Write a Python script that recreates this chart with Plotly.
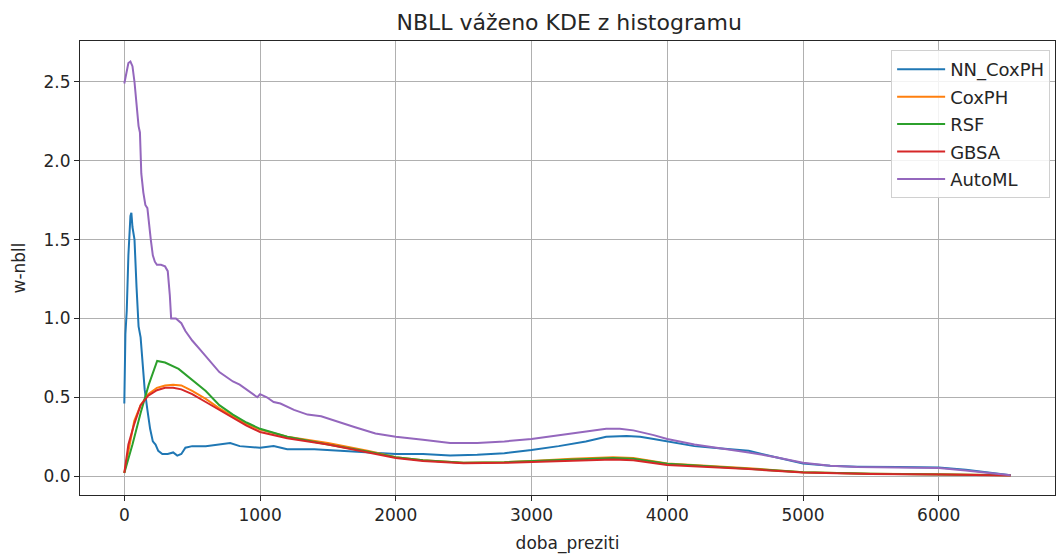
import plotly.graph_objects as go

# NN_CoxPH
nn_x = [0, 8, 18, 30, 45, 52, 60, 75, 90, 105, 120, 135, 150, 170, 190, 210, 230, 250, 280, 320, 360, 390, 420, 450, 500, 600, 700, 780, 850, 1000, 1100, 1200, 1400, 1600, 1800, 2000, 2200, 2400, 2600, 2800, 3000, 3200, 3400, 3550, 3700, 3800, 3900, 4000, 4200, 4400, 4600, 4800, 5000, 5200, 5400, 5700, 6000, 6200, 6400, 6530]
nn_y = [0.46, 0.90, 1.05, 1.40, 1.65, 1.67, 1.58, 1.50, 1.20, 0.95, 0.88, 0.70, 0.55, 0.42, 0.30, 0.22, 0.20, 0.16, 0.14, 0.14, 0.15, 0.13, 0.14, 0.18, 0.19, 0.19, 0.20, 0.21, 0.19, 0.18, 0.19, 0.17, 0.17, 0.16, 0.15, 0.14, 0.14, 0.13, 0.135, 0.145, 0.165, 0.19, 0.22, 0.25, 0.255, 0.25, 0.235, 0.22, 0.19, 0.175, 0.16, 0.12, 0.08, 0.065, 0.06, 0.058, 0.055, 0.04, 0.02, 0.005]

# CoxPH
cox_x = [0, 30, 73, 120, 176, 240, 300, 360, 420, 500, 600, 700, 800, 900, 1000, 1200, 1500, 1800, 2000, 2200, 2500, 2800, 3000, 3300, 3600, 3750, 4000, 4300, 4600, 5000, 5500, 6000, 6530]
cox_y = [0.02, 0.15, 0.35, 0.45, 0.52, 0.56, 0.575, 0.58, 0.575, 0.54, 0.49, 0.43, 0.38, 0.33, 0.295, 0.25, 0.21, 0.16, 0.12, 0.10, 0.085, 0.088, 0.095, 0.11, 0.12, 0.115, 0.08, 0.065, 0.05, 0.025, 0.015, 0.012, 0.005]

# RSF
rsf_x = [0, 60, 120, 180, 242, 300, 400, 500, 600, 700, 800, 900, 1000, 1200, 1500, 1800, 2000, 2200, 2500, 2800, 3000, 3300, 3600, 3750, 4000, 4300, 4600, 5000, 5500, 6000, 6530]
rsf_y = [0.02, 0.20, 0.40, 0.58, 0.73, 0.72, 0.68, 0.61, 0.54, 0.45, 0.39, 0.34, 0.30, 0.25, 0.20, 0.155, 0.12, 0.10, 0.085, 0.088, 0.095, 0.105, 0.115, 0.11, 0.078, 0.062, 0.048, 0.025, 0.015, 0.012, 0.005]

# GBSA
gb_x = [0, 30, 73, 120, 176, 240, 300, 360, 420, 500, 600, 700, 800, 900, 1000, 1200, 1500, 1800, 2000, 2200, 2500, 2800, 3000, 3300, 3600, 3750, 4000, 4300, 4600, 5000, 5500, 6000, 6530]
gb_y = [0.02, 0.20, 0.33, 0.45, 0.51, 0.545, 0.56, 0.56, 0.55, 0.52, 0.47, 0.42, 0.37, 0.32, 0.28, 0.24, 0.20, 0.15, 0.115, 0.095, 0.082, 0.084, 0.09, 0.10, 0.105, 0.10, 0.07, 0.058, 0.045, 0.022, 0.013, 0.01, 0.003]

# AutoML
am_x = [0, 15, 30, 45, 60, 75, 90, 105, 115, 125, 140, 155, 170, 180, 195, 210, 225, 240, 270, 300, 320, 335, 345, 380, 420, 450, 500, 560, 620, 660, 700, 750, 800, 850, 900, 950, 980, 1000, 1050, 1100, 1150, 1250, 1350, 1450, 1550, 1700, 1850, 2000, 2200, 2400, 2600, 2800, 3000, 3200, 3400, 3550, 3650, 3750, 3900, 4000, 4200, 4400, 4600, 4800, 5000, 5200, 5400, 5700, 6000, 6200, 6400, 6530]
am_y = [2.49, 2.56, 2.62, 2.63, 2.60, 2.50, 2.35, 2.22, 2.18, 1.92, 1.80, 1.72, 1.70, 1.60, 1.50, 1.40, 1.36, 1.34, 1.34, 1.33, 1.30, 1.15, 1.00, 1.00, 0.97, 0.92, 0.86, 0.80, 0.74, 0.70, 0.66, 0.63, 0.60, 0.58, 0.55, 0.52, 0.50, 0.52, 0.50, 0.47, 0.46, 0.42, 0.39, 0.38, 0.35, 0.31, 0.27, 0.25, 0.23, 0.21, 0.21, 0.22, 0.235, 0.26, 0.285, 0.30, 0.30, 0.29, 0.26, 0.235, 0.20, 0.175, 0.15, 0.12, 0.085, 0.065, 0.058, 0.055, 0.052, 0.035, 0.015, 0.005]

names = ["NN_CoxPH", "CoxPH", "RSF", "GBSA", "AutoML"]
colors = ["#1f77b4", "#ff7f0e", "#2ca02c", "#d62728", "#9467bd"]
series = [(nn_x, nn_y), (cox_x, cox_y), (rsf_x, rsf_y), (gb_x, gb_y), (am_x, am_y)]

fig = go.Figure()
for name, color, (xs, ys) in zip(names, colors, series):
    fig.add_trace(go.Scatter(x=xs, y=ys, mode="lines", name=name, legendgroup=name,
                             line=dict(color=color, width=2)))

font_family = "DejaVu Sans"
fig.update_layout(
    width=1056, height=556,
    margin=dict(l=80, r=1, t=41, b=61),
    paper_bgcolor="white", plot_bgcolor="white",
    font=dict(family=font_family, size=17, color="#262626"),
    title=dict(text="NBLL váženo KDE z histogramu", x=0.539, xanchor="center",
               y=0.96, yanchor="middle", font=dict(size=22, color="#262626")),
    showlegend=True,
    legend=dict(x=0.995, xanchor="right", y=0.98, yanchor="top",
                bgcolor="rgba(255,255,255,0.85)", bordercolor="#d0d0d0", borderwidth=1,
                font=dict(size=18, color="#262626"), tracegroupgap=1,
                itemwidth=48),
)
fig.update_xaxes(range=[-326.5, 6856.5], tickmode="array",
                 tickvals=[0, 1000, 2000, 3000, 4000, 5000, 6000],
                 ticks="outside", ticklen=5, tickcolor="#262626",
                 tickfont=dict(size=17),
                 showline=True, mirror=True, linecolor="#262626", linewidth=1,
                 showgrid=True, gridcolor="#b0b0b0", gridwidth=1, zeroline=False,
                 title=dict(text="doba_preziti", font=dict(size=17), standoff=12))
fig.update_yaxes(range=[-0.12, 2.76], tickmode="array",
                 tickvals=[0, 0.5, 1.0, 1.5, 2.0, 2.5],
                 ticktext=["0.0", "0.5", "1.0", "1.5", "2.0", "2.5"],
                 ticks="outside", ticklen=5, tickcolor="#262626",
                 tickfont=dict(size=17),
                 showline=True, mirror=True, linecolor="#262626", linewidth=1,
                 showgrid=True, gridcolor="#b0b0b0", gridwidth=1, zeroline=False,
                 title=dict(text="w-nbll", font=dict(size=17), standoff=13))

fig.write_html("out.html")
